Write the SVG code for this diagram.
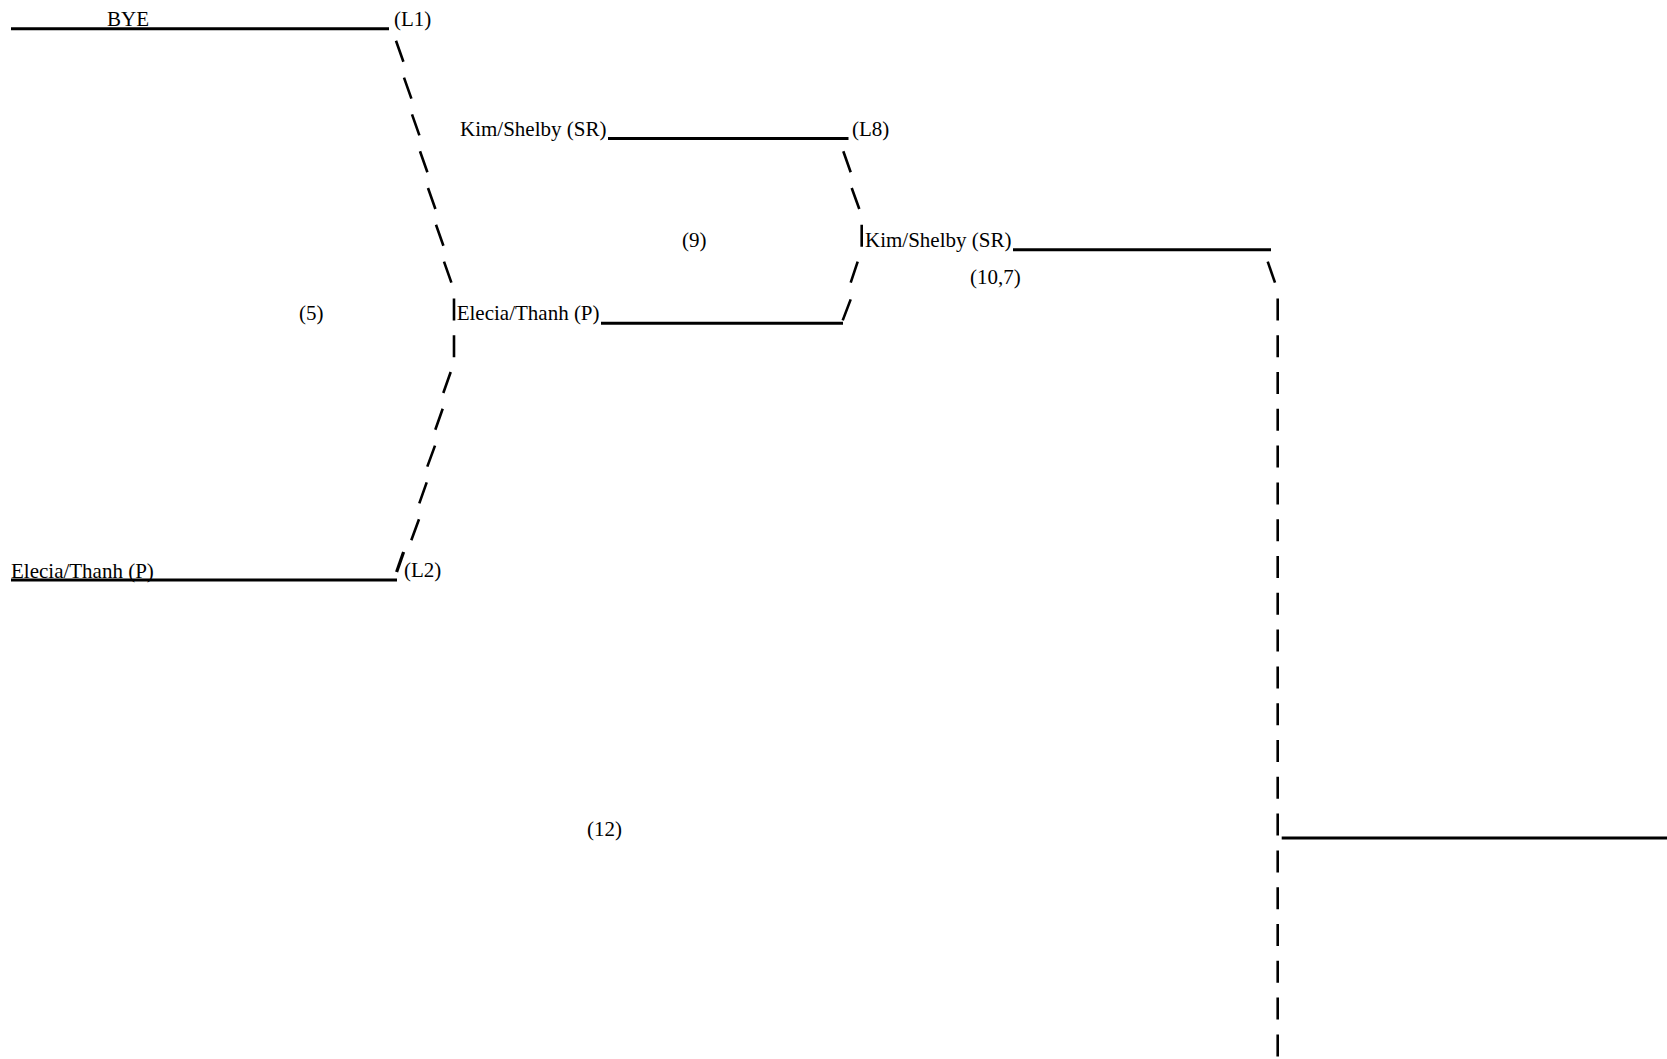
<svg xmlns="http://www.w3.org/2000/svg" width="1667" height="1059" viewBox="0 0 1667 1059">
<style>
text{font-family:"Liberation Serif","Times New Roman",serif;font-size:21px;fill:#000}
.ul{stroke:#000;stroke-width:3;fill:none}
.seg{stroke:#000;stroke-width:2.6;fill:none;stroke-linecap:butt}
.bold{stroke-width:3.2}
</style>
<rect width="1667" height="1059" fill="#fff"/>
<g id="connectors">
<path class="seg" d="M396,40.8L403.4,61.8M404,77.6L411.4,98.6M412,114.4L419.4,135.4M420,151.2L427.4,172.2M428,188L435.4,209M436,224.8L443.4,245.8M444,261.6L451.4,282.6"/>
<path class="seg" d="M454,298.4V320.4M454,335.2V357.2"/>
<path class="seg" d="M450.7,372L443.3,393M442.7,408.8L435.3,429.8M435,445.6L427.3,466.6M426.7,482.4L419.3,503.4M419,519.2L411.3,540.2"/>
<path class="seg bold" d="M403.6,552L396.6,572"/>
<path class="seg" d="M843.3,151.2L850.7,172.2M851.7,188L859.3,209M861.7,224.8V246.8M857.7,261.6L850.7,282.6M850.7,299.4L842.7,320.4"/>
<path class="seg" d="M1267.7,261.6L1275,282.6"/>
<path class="seg" d="M1277.7,298.4V320.4M1277.7,335.2V357.2M1277.7,372V394M1277.7,408.8V430.8M1277.7,445.6V467.6M1277.7,482.4V504.4M1277.7,519.2V541.2M1277.7,556V578M1277.7,592.8V614.8M1277.7,629.6V651.6M1277.7,666.4V688.4M1277.7,703.2V725.2M1277.7,740V762M1277.7,776.8V798.8M1277.7,813.6V835.6M1277.7,850.4V872.4M1277.7,887.2V909.2M1277.7,924V946M1277.7,960.8V982.8M1277.7,997.6V1019.6M1277.7,1034.4V1056.4"/>
</g>
<g id="node-bye">
<line class="ul" x1="11" y1="28.7" x2="389" y2="28.7"/>
<text x="107" y="26">BYE</text>
<text x="394" y="26">(L1)</text>
</g>
<g id="node-elecia-l2">
<line class="ul" x1="11" y1="580" x2="397" y2="580"/>
<text x="11" y="578">Elecia/Thanh (P)</text>
<text x="404" y="577">(L2)</text>
</g>
<g id="node-match5">
<text x="299" y="320.4">(5)</text>
</g>
<g id="node-elecia-r2">
<line class="ul" x1="601" y1="323.2" x2="843" y2="323.2"/>
<text x="456.7" y="320.4">Elecia/Thanh (P)</text>
</g>
<g id="node-kim-l8">
<line class="ul" x1="608" y1="138.5" x2="848.5" y2="138.5"/>
<text x="460" y="136.4">Kim/Shelby (SR)</text>
<text x="852" y="136.4">(L8)</text>
</g>
<g id="node-match9">
<text x="682" y="246.8">(9)</text>
</g>
<g id="node-kim-r3">
<line class="ul" x1="1013" y1="249.8" x2="1271" y2="249.8"/>
<text x="865" y="246.8">Kim/Shelby (SR)</text>
</g>
<g id="node-score">
<text x="970" y="283.6">(10,7)</text>
</g>
<g id="node-match12">
<text x="587" y="835.6">(12)</text>
</g>
<g id="node-final">
<line class="ul" x1="1281.7" y1="838" x2="1667" y2="838"/>
</g>
</svg>
